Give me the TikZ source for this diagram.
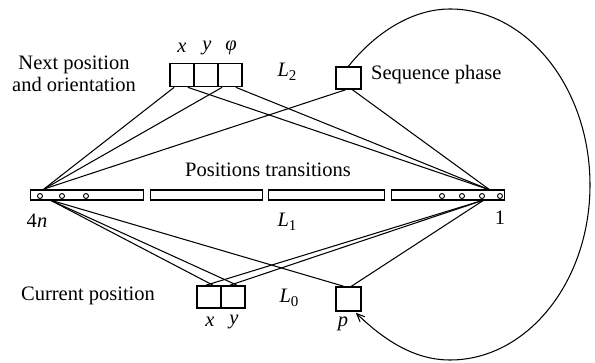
\documentclass[tikz,border=0pt]{standalone}
\usepackage{fontspec}
\setmainfont{Liberation Serif}
\usetikzlibrary{arrows.meta}
\begin{document}
\begin{tikzpicture}[x=1pt,y=-1pt,
  cell/.style={draw,line width=1.6pt,minimum width=24pt,minimum height=23pt,inner sep=0pt},
  seg/.style={draw,line width=1.1pt,minimum height=10pt,inner sep=0pt,anchor=west},
  dot/.style={circle,draw,line width=0.9pt,minimum size=5pt,inner sep=0pt},
  conn/.style={line width=1.05pt},
  lbl/.style={font=\fontsize{20.5}{24}\selectfont,inner sep=0pt},
  every node/.style={font=\fontsize{20.5}{24}\selectfont}]
\useasboundingbox (0,0) rectangle (595,363);
% top layer L2
\node[cell] (tx) at (182,75) {};
\node[cell] (ty) at (206,75) {};
\node[cell] (tphi) at (230,75) {};
\node[cell,minimum width=25pt,minimum height=22pt] (seq) at (348.5,78) {};
\node[lbl] (lx) at (182,48) {\textit{x}};
\node[lbl] (ly) at (207,48) {\textit{y}};
\node[lbl] (lphi) at (231,48) {\textit{φ}};
\node[lbl] (l2) at (287,72) {\textit{L}\raisebox{-0.4ex}{\fontsize{15}{16}\selectfont 2}};
\node[lbl,anchor=west] (seqtxt) at (371,75) {Sequence phase};
\node[lbl,align=center] (next) at (74,74) {Next position\\[-2pt]and orientation};
% middle layer L1
\node[lbl] (trans) at (268,170) {Positions transitions};
\node[seg,minimum width=113pt] (s1) at (30,195) {};
\node[seg,minimum width=112pt] (s2) at (150,195) {};
\node[seg,minimum width=116pt] (s3) at (268,195) {};
\node[seg,minimum width=113pt] (s4) at (391,195) {};
\node[dot] (c1) at (40,196) {};
\node[dot] (c2) at (62,196) {};
\node[dot] (c3) at (86,196) {};
\node[dot] (c4) at (442,196) {};
\node[dot] (c5) at (462,196) {};
\node[dot] (c6) at (482,196) {};
\node[dot] (c7) at (500,196) {};
\node[lbl] (l4n) at (37,221) {4\textit{n}};
\node[lbl] (lone) at (500,218) {1};
\node[lbl] (l1) at (287,222) {\textit{L}\raisebox{-0.4ex}{\fontsize{15}{16}\selectfont 1}};
\coordinate (Lt) at (44,189);
\coordinate (Lb) at (50,200);
\coordinate (Rt) at (490,190);
\coordinate (Rb) at (484,200);
% bottom layer L0
\node[cell,minimum height=22pt] (bx) at (209,297) {};
\node[cell,minimum height=22pt] (by) at (233,297) {};
\node[cell,minimum width=25pt,minimum height=24pt] (p) at (348.5,299) {};
\node[lbl] (lbx) at (210,322) {\textit{x}};
\node[lbl] (lby) at (234,322) {\textit{y}};
\node[lbl] (lp) at (343,324) {\textit{p}};
\node[lbl] (l0) at (289,298) {\textit{L}\raisebox{-0.4ex}{\fontsize{15}{16}\selectfont 0}};
\node[lbl] (cur) at (88,296) {Current position};
% connectors L2 - L1
\draw[conn] ([xshift=5]tx.south west) -- (Lt);
\draw[conn] ([xshift=-7]tx.south east) -- (Rt);
\draw[conn] ([xshift=5]tphi.south west) -- (Lt);
\draw[conn] ([xshift=-7]tphi.south east) -- (Rt);
\draw[conn] ([xshift=-3]seq.south) -- (Lt);
\draw[conn] ([xshift=4]seq.south) -- (Rt);
% connectors L1 - L0
\draw[conn] (Lb) -- ([xshift=4]bx.north);
\draw[conn] (Lb) -- ([xshift=4]by.north);
\draw[conn] (Lb) -- ([xshift=-5]p.north);
\draw[conn] (Rb) -- ([xshift=-3]bx.north);
\draw[conn] (Rb) -- ([xshift=-3]by.north);
\draw[conn] (Rb) -- ([xshift=3]p.north);
% feedback arc
\coordinate (arcTop) at (450,9);
\coordinate (arcRight) at (590,185);
\coordinate (arcBot) at (450,360);
\draw[conn,-{Straight Barb[length=8pt,width=7pt]}] (seq.north) .. controls (375,33) and (412,9) .. (arcTop)
  .. controls (527,9) and (590,88) .. (arcRight)
  .. controls (590,282) and (527,360) .. (arcBot)
  .. controls (416,360) and (386,342) .. ([xshift=-6,yshift=-1]p.south east);
\end{tikzpicture}
\end{document}
